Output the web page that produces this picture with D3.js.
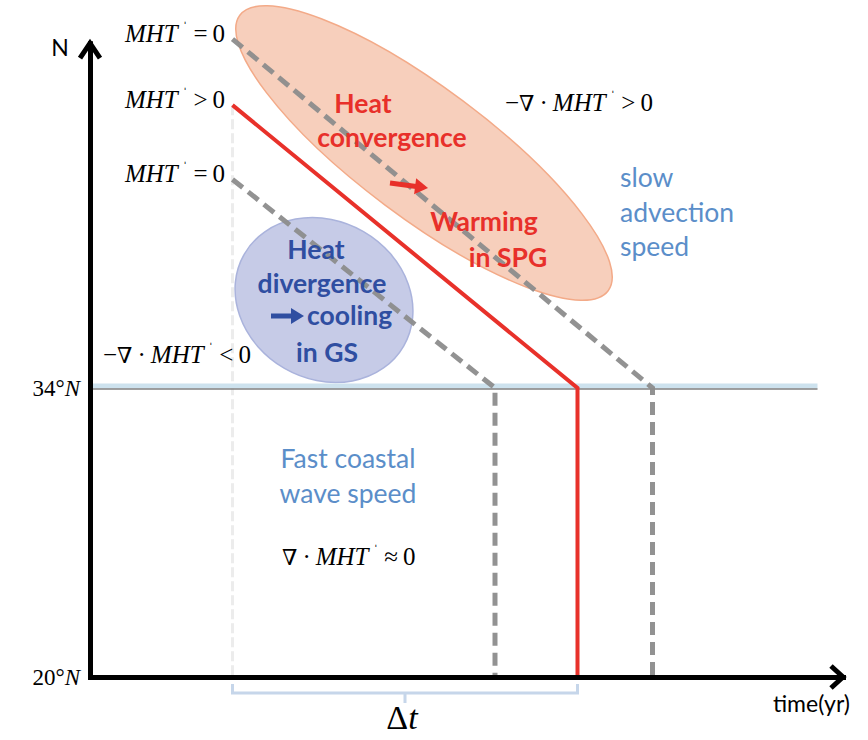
<!DOCTYPE html>
<html>
<head>
<meta charset="utf-8">
<script src="https://cdn.jsdelivr.net/npm/d3@7"></script>
<style>
  body { margin: 0; background: #fff; }
  svg { display: block; }
  .serif { font-family: "Liberation Serif", "Times New Roman", serif; }
  .sans { font-family: Lato, "Open Sans", sans-serif; }
</style>
</head>
<body>
<div id="chart"></div>
<script>
// three anomaly fronts: start (time, lat), arrival at 34N, then coastal wave to 20N
var frontNames = ['upperZero', 'positive', 'lowerZero'];
var frontSigns = ['=', '>', '='];
var startTime = [19, 19, 19];
var startLat = [50.9, 47.7, 44.1];
var arriveTime = [75, 65, 54];
var coastLat = 34;
var southLat = 20;
var latTicks = [34, 20];
var lineEndTime = 97;

function drawChart() {
  var width = 868, height = 740;
  var svg = d3.select('#chart').append('svg')
    .attr('width', width)
    .attr('height', height);

  var x = d3.scaleLinear().domain([0, 100.4]).range([90, 843]);
  var y = d3.scaleLinear().domain([southLat, 50.7]).range([677, 43.2]);

  // shaded regions
  svg.append('ellipse')
    .attr('rx', 230).attr('ry', 65)
    .attr('transform', 'translate(424,153) rotate(36.8)')
    .attr('fill', '#f6c7b0').attr('fill-opacity', 0.85)
    .attr('stroke', '#f3aa88').attr('stroke-width', 1.5);
  svg.append('ellipse')
    .attr('rx', 92).attr('ry', 79)
    .attr('transform', 'translate(324,300) rotate(30)')
    .attr('fill', '#bcc2e3').attr('fill-opacity', 0.85)
    .attr('stroke', '#aab3dc').attr('stroke-width', 1.5);

  // faint start time marker
  svg.append('line')
    .attr('x1', x(startTime[0])).attr('x2', x(startTime[0]))
    .attr('y1', y(startLat[1])).attr('y2', y(southLat))
    .attr('stroke', '#ececec').attr('stroke-width', 3)
    .attr('stroke-dasharray', '10,4');

  // 34N line
  svg.append('line')
    .attr('x1', x(0)).attr('x2', x(lineEndTime))
    .attr('y1', y(coastLat) - 2).attr('y2', y(coastLat) - 2)
    .attr('stroke', '#cde2ee').attr('stroke-width', 5);
  svg.append('line')
    .attr('x1', x(0)).attr('x2', x(lineEndTime))
    .attr('y1', y(coastLat) + 1).attr('y2', y(coastLat) + 1)
    .attr('stroke', '#808080').attr('stroke-width', 1.5);

  // fronts
  var line = d3.line()
    .x(function(d) { return x(d[0]); })
    .y(function(d) { return y(d[1]); });
  frontNames.forEach(function(name, i) {
    var pts = [[startTime[i], startLat[i]], [arriveTime[i], coastLat], [arriveTime[i], southLat]];
    var p = svg.append('path')
      .datum(pts)
      .attr('d', line)
      .attr('fill', 'none')
      .attr('stroke-linejoin', 'miter');
    if (name == 'positive') {
      p.attr('stroke', '#e8312a').attr('stroke-width', 4);
    } else {
      p.attr('stroke', '#8c8c8c').attr('stroke-width', 5)
        .attr('stroke-dasharray', '13,7').attr('stroke-opacity', 0.95);
    }
  });

  // axes
  var xAxis = svg.append('g')
    .attr('transform', 'translate(0,' + y(southLat) + ')')
    .call(d3.axisBottom(x).tickValues([]).tickSizeOuter(0));
  xAxis.select('.domain').attr('stroke', '#000').attr('stroke-width', 5).attr('stroke-linecap', 'square');

  var yAxis = svg.append('g')
    .attr('transform', 'translate(' + x(0) + ',0)')
    .call(d3.axisLeft(y).tickValues(latTicks).tickSize(0).tickPadding(10)
      .tickFormat(function(d) { return d + '°'; }));
  yAxis.select('.domain').attr('stroke', '#000').attr('stroke-width', 5).attr('stroke-linecap', 'square');
  yAxis.selectAll('.tick text')
    .attr('class', 'serif')
    .attr('font-size', 23)
    .attr('fill', '#000')
    .attr('dy', '0.34em')
    .append('tspan').attr('font-style', 'italic').text('N');

  // arrow heads
  var xr = x.range()[1], y0 = y(southLat);
  svg.append('path')
    .attr('d', 'M' + (xr - 12) + ',' + (y0 - 11) + 'L' + xr + ',' + y0 + 'L' + (xr - 12) + ',' + (y0 + 11))
    .attr('fill', 'none').attr('stroke', '#000').attr('stroke-width', 5);
  var yt = y.range()[1], x0 = x(0);
  svg.append('path')
    .attr('d', 'M' + (x0 - 10) + ',' + (yt + 15) + 'L' + x0 + ',' + yt + 'L' + (x0 + 10) + ',' + (yt + 15))
    .attr('fill', 'none').attr('stroke', '#000').attr('stroke-width', 5);

  svg.append('text').attr('class', 'sans')
    .attr('x', 60).attr('y', 56).attr('text-anchor', 'middle')
    .attr('font-size', 23).text('N');
  svg.append('text').attr('class', 'sans')
    .attr('x', 850).attr('y', 712).attr('text-anchor', 'end')
    .attr('font-size', 23).text('time(yr)');

  // delta t bracket
  var bx0 = x(startTime[1]), bx1 = x(arriveTime[1]), bm = (bx0 + bx1) / 2;
  svg.append('path')
    .attr('d', 'M' + bx0 + ',684V693H' + bx1 + 'V684M' + bm + ',693V703')
    .attr('fill', 'none').attr('stroke', '#c6d6ea').attr('stroke-width', 3);
  var dt = svg.append('text').attr('class', 'serif')
    .attr('x', bm - 3).attr('y', 729).attr('text-anchor', 'middle').attr('font-size', 34);
  dt.append('tspan').text('Δ');
  dt.append('tspan').attr('font-style', 'italic').text('t');

  // math labels
  function mathLabel(px, py, pre, sign, anchor) {
    var t = svg.append('text').attr('class', 'serif')
      .attr('x', px).attr('y', py).attr('font-size', 25)
      .attr('text-anchor', anchor);
    if (pre) {
      t.append('tspan').text('−');
      t.append('tspan').attr('font-family', '"DejaVu Serif", serif').attr('font-size', 22).text('∇');
      t.append('tspan').attr('dx', 5).text('·');
      t.append('tspan').attr('dx', 5).attr('font-style', 'italic').text('MHT');
      if (pre == 'nabla') t.select('tspan').remove();
    } else {
      t.append('tspan').attr('font-style', 'italic').text('MHT');
    }
    t.append('tspan').attr('dx', 5).attr('dy', -10).attr('font-size', 14).text('ˈ');
    t.append('tspan').attr('dx', 6).attr('dy', 10).text(sign);
    t.append('tspan').attr('dx', 5).text('0');
  }
  frontNames.forEach(function(name, i) {
    mathLabel(225, y(startLat[i]) + 3, null, frontSigns[i], 'end');
  });
  mathLabel(505, 111, 'minus', '>', 'start');
  mathLabel(103, 363, 'minus', '<', 'start');
  mathLabel(282, 565, 'nabla', '≈', 'start');

  // text annotations
  function label(lines, color, weight, anchor, size) {
    lines.forEach(function(l) {
      svg.append('text').attr('class', 'sans')
        .attr('x', l[1]).attr('y', l[2])
        .attr('text-anchor', anchor)
        .attr('font-size', size).attr('font-weight', weight)
        .attr('fill', color).text(l[0]);
    });
  }
  label([['Heat', 363, 113], ['convergence', 392, 147], ['Warming', 484, 231], ['in SPG', 508, 267]], '#e8302a', 'bold', 'middle', 26.5);
  label([['Heat', 316, 259], ['divergence', 322, 293], ['in GS', 327, 362]], '#2f4ea1', 'bold', 'middle', 26.5);
  label([['cooling', 307, 325]], '#2f4ea1', 'bold', 'start', 26.5);
  label([['slow', 620, 187], ['advection', 620, 222], ['speed', 620, 256]], '#5b8ec9', 'normal', 'start', 26.5);
  label([['Fast coastal', 348, 468], ['wave speed', 348, 503]], '#5b8ec9', 'normal', 'middle', 26.5);

  function arrow(ax0, ay0, ax1, ay1, color) {
    var ang = Math.atan2(ay1 - ay0, ax1 - ax0) * 180 / Math.PI;
    var len = Math.hypot(ax1 - ax0, ay1 - ay0);
    var g = svg.append('g').attr('transform', 'translate(' + ax0 + ',' + ay0 + ') rotate(' + ang + ')');
    g.append('line').attr('x1', 0).attr('x2', len - 10).attr('stroke', color).attr('stroke-width', 5);
    g.append('path').attr('d', 'M' + (len - 13) + ',-8L' + len + ',0L' + (len - 13) + ',8Z').attr('fill', color);
  }
  arrow(390, 183, 428, 188, '#e8302a');
  arrow(271, 316, 304, 316, '#2f4ea1');
}

drawChart();
</script>
</body>
</html>
